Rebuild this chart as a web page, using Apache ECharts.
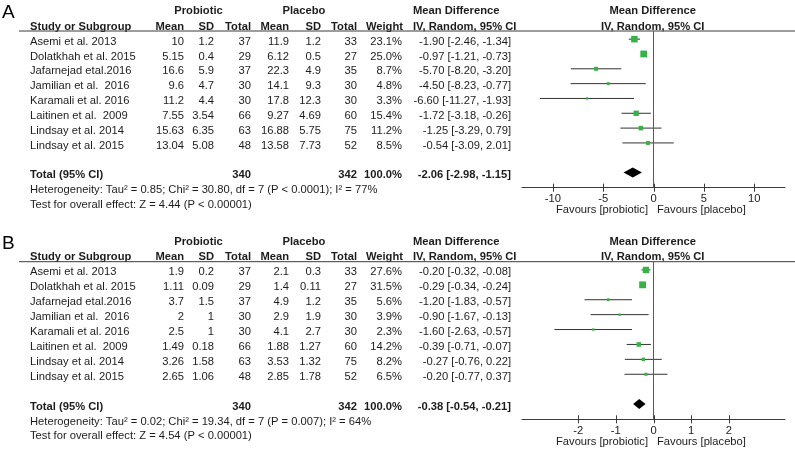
<!DOCTYPE html>
<html><head><meta charset="utf-8">
<script src="https://cdn.jsdelivr.net/npm/echarts@6/dist/echarts.min.js"></script>
<style>html,body{margin:0;padding:0;background:#fff}#c{width:795px;height:451px}</style>
</head><body><div id="c"></div>
<script>
// ---------- data ----------
const studies = ['Asemi et al. 2013', 'Dolatkhah et al. 2015', 'Jafarnejad etal.2016', 'Jamilian et al.  2016',
  'Karamali et al. 2016', 'Laitinen et al.  2009', 'Lindsay et al. 2014', 'Lindsay et al. 2015'];
const probN = [37, 29, 37, 30, 30, 66, 63, 48];
const placN = [33, 27, 35, 30, 30, 60, 75, 52];

// Panel A
const aProbMean = ['10', '5.15', '16.6', '9.6', '11.2', '7.55', '15.63', '13.04'];
const aProbSD = ['1.2', '0.4', '5.9', '4.7', '4.4', '3.54', '6.35', '5.08'];
const aPlacMean = ['11.9', '6.12', '22.3', '14.1', '17.8', '9.27', '16.88', '13.58'];
const aPlacSD = ['1.2', '0.5', '4.9', '9.3', '12.3', '4.69', '5.75', '7.73'];
const aWeight = [23.1, 25.0, 8.7, 4.8, 3.3, 15.4, 11.2, 8.5];
const aMD = [-1.90, -0.97, -5.70, -4.50, -6.60, -1.72, -1.25, -0.54];
const aLo = [-2.46, -1.21, -8.20, -8.23, -11.27, -3.18, -3.29, -3.09];
const aHi = [-1.34, -0.73, -3.20, -0.77, -1.93, -0.26, 0.79, 2.01];
const aTotal = [-2.06, -2.98, -1.15];
const aHet = 'Heterogeneity: Tau\u00b2 = 0.85; Chi\u00b2 = 30.80, df = 7 (P < 0.0001); I\u00b2 = 77%';
const aTest = 'Test for overall effect: Z = 4.44 (P < 0.00001)';
const aTicks = [-10, -5, 0, 5, 10];

// Panel B
const bProbMean = ['1.9', '1.11', '3.7', '2', '2.5', '1.49', '3.26', '2.65'];
const bProbSD = ['0.2', '0.09', '1.5', '1', '1', '0.18', '1.58', '1.06'];
const bPlacMean = ['2.1', '1.4', '4.9', '2.9', '4.1', '1.88', '3.53', '2.85'];
const bPlacSD = ['0.3', '0.11', '1.2', '1.9', '2.7', '1.27', '1.32', '1.78'];
const bWeight = [27.6, 31.5, 5.6, 3.9, 2.3, 14.2, 8.2, 6.5];
const bMD = [-0.20, -0.29, -1.20, -0.90, -1.60, -0.39, -0.27, -0.20];
const bLo = [-0.32, -0.34, -1.83, -1.67, -2.63, -0.71, -0.76, -0.77];
const bHi = [-0.08, -0.24, -0.57, -0.13, -0.57, -0.07, 0.22, 0.37];
const bTotal = [-0.38, -0.54, -0.21];
const bHet = 'Heterogeneity: Tau\u00b2 = 0.02; Chi\u00b2 = 19.34, df = 7 (P = 0.007); I\u00b2 = 64%';
const bTest = 'Test for overall effect: Z = 4.54 (P < 0.00001)';
const bTicks = [-2, -1, 0, 1, 2];

const totalProb = 340, totalPlac = 342;

// ---------- style / layout ----------
const FONT = '"Liberation Sans", Arial, sans-serif';
const FS = 11.2;
const TXT = '#1c1c1c';
const GREEN = '#34b444';
const AXC = '#3a3a3a';
const COL = { study: 30, pMean: 184, pSD: 214, pN: 251, cMean: 289, cSD: 321, cN: 357, w: 402, ci: 511 };
const TEXT_DY = 2.5;
const YMIN = -0.55, YMAX = 10.02;

function fmt2(v) { return v.toFixed(2); }
function ciText(m, l, h) { return fmt2(m) + ' [' + fmt2(l) + ', ' + fmt2(h) + ']'; }

const panels = [
  { label: 'A', top: 31, height: 156.7, xr: 13.06, ticks: aTicks,
    pm: aProbMean, ps: aProbSD, cm: aPlacMean, cs: aPlacSD, w: aWeight, md: aMD, lo: aLo, hi: aHi,
    tot: aTotal, het: aHet, test: aTest },
  { label: 'B', top: 261.7, height: 157.6, xr: 3.49, ticks: bTicks,
    pm: bProbMean, ps: bProbSD, cm: bPlacMean, cs: bPlacSD, w: bWeight, md: bMD, lo: bLo, hi: bHi,
    tot: bTotal, het: bHet, test: bTest }
];

function t(x, y, text, align, bold, size) {
  return { type: 'text', style: { x: x, y: y, text: text, fill: TXT, align: align || 'left', verticalAlign: 'middle',
    font: (bold ? 'bold ' : '') + (size || FS) + 'px ' + FONT } };
}

const grids = [], xAxes = [], yAxes = [], series = [], graphics = [];

panels.forEach(function (P, k) {
  grids.push({ left: 522, right: 10, top: P.top, height: P.height });
  xAxes.push({ type: 'value', gridIndex: k, min: -P.xr, max: P.xr, position: 'bottom',
    splitLine: { show: false },
    axisLine: { show: true, onZero: false, lineStyle: { color: AXC, width: 1 } },
    axisTick: { show: false },
    axisLabel: { show: true, customValues: P.ticks, margin: 6, color: TXT, fontSize: FS, fontFamily: FONT }
  });
  yAxes.push({ type: 'value', gridIndex: k, inverse: true, min: YMIN, max: YMAX, show: false });

  const maxW = Math.max.apply(null, P.w);

  // study rows
  const rows = studies.map(function (s, i) { return [P.lo[i], P.hi[i], P.md[i], i, P.w[i]]; });
  series.push({
    type: 'custom', xAxisIndex: k, yAxisIndex: k, clip: false, silent: true,
    encode: { x: [0, 1, 2], y: 3 },
    data: rows,
    renderItem: function (params, api) {
      const i = params.dataIndex;
      const pl = api.coord([api.value(0), api.value(3)]);
      const ph = api.coord([api.value(1), api.value(3)]);
      const pm = api.coord([api.value(2), api.value(3)]);
      const ty = pl[1] + TEXT_DY;
      const side = Math.max(2.4, 6.8 * Math.sqrt(api.value(4) / maxW));
      return { type: 'group', children: [
        t(COL.study, ty, studies[i]),
        t(COL.pMean, ty, P.pm[i], 'right'),
        t(COL.pSD, ty, P.ps[i], 'right'),
        t(COL.pN, ty, String(probN[i]), 'right'),
        t(COL.cMean, ty, P.cm[i], 'right'),
        t(COL.cSD, ty, P.cs[i], 'right'),
        t(COL.cN, ty, String(placN[i]), 'right'),
        t(COL.w, ty, P.w[i].toFixed(1) + '%', 'right'),
        t(COL.ci, ty, ciText(P.md[i], P.lo[i], P.hi[i]), 'right'),
        { type: 'line', shape: { x1: pl[0], y1: pl[1], x2: ph[0], y2: ph[1] },
          style: { stroke: '#333', lineWidth: 1 } },
        { type: 'rect', shape: { x: pm[0] - side / 2, y: pm[1] - side / 2, width: side, height: side },
          style: { fill: GREEN } }
      ] };
    },
    markLine: { silent: true, symbol: 'none', animation: false, label: { show: false },
      lineStyle: { color: '#5a5a5a', width: 1, type: 'solid' }, data: [{ xAxis: 0 }] }
  });

  // crossing tick marks on the axis
  series.push({
    type: 'custom', xAxisIndex: k, yAxisIndex: k, clip: false, silent: true,
    encode: { x: 0, y: 1 },
    data: P.ticks.map(function (v) { return [v, YMAX]; }),
    renderItem: function (params, api) {
      const p = api.coord([api.value(0), api.value(1)]);
      const x = Math.round(p[0]) + 0.5;
      return { type: 'line', shape: { x1: x, y1: p[1] - 4, x2: x, y2: p[1] + 4 },
        style: { stroke: AXC, lineWidth: 1 } };
    }
  });

  // total row + footer
  series.push({
    type: 'custom', xAxisIndex: k, yAxisIndex: k, clip: false, silent: true,
    encode: { x: [0, 1, 2], y: 3 },
    data: [[P.tot[1], P.tot[2], P.tot[0], 9]],
    renderItem: function (params, api) {
      const row = api.value(3);
      const pl = api.coord([api.value(0), row]);
      const ph = api.coord([api.value(1), row]);
      const pm = api.coord([api.value(2), row]);
      const ty = pl[1] + TEXT_DY;
      const y10 = api.coord([0, row + 1])[1] + TEXT_DY;
      const y11 = api.coord([0, row + 2])[1] + TEXT_DY;
      return { type: 'group', children: [
        t(COL.study, ty, 'Total (95% CI)', 'left', true),
        t(COL.pN, ty, String(totalProb), 'right', true),
        t(COL.cN, ty, String(totalPlac), 'right', true),
        t(COL.w, ty, '100.0%', 'right', true),
        t(COL.ci, ty, ciText(P.tot[0], P.tot[1], P.tot[2]), 'right', true),
        t(COL.study, y10, P.het),
        t(COL.study, y11, P.test),
        { type: 'polygon', shape: { points: [[pl[0], pl[1]], [pm[0], pm[1] - 5], [ph[0], ph[1]], [pm[0], pm[1] + 5]] },
          style: { fill: '#000' } }
      ] };
    }
  });

  // headers
  const h2 = P.top - 4.5, h1 = h2 - 15.5;
  graphics.push(
    { type: 'text', x: 2, y: h1 + 2, style: { text: P.label, fill: '#000', font: '19px ' + FONT, align: 'left', verticalAlign: 'middle' } },
    t(198.5, h1, 'Probiotic', 'center', true),
    t(304, h1, 'Placebo', 'center', true),
    t(413, h1, 'Mean Difference', 'left', true),
    t(652.7, h1, 'Mean Difference', 'center', true),
    t(COL.study, h2, 'Study or Subgroup', 'left', true),
    t(COL.pMean, h2, 'Mean', 'right', true),
    t(COL.pSD, h2, 'SD', 'right', true),
    t(COL.pN, h2, 'Total', 'right', true),
    t(COL.cMean, h2, 'Mean', 'right', true),
    t(COL.cSD, h2, 'SD', 'right', true),
    t(COL.cN, h2, 'Total', 'right', true),
    t(COL.w + 1, h2, 'Weight', 'right', true),
    t(413, h2, 'IV, Random, 95% CI', 'left', true),
    t(652.7, h2, 'IV, Random, 95% CI', 'center', true),
    { type: 'line', shape: { x1: 19, y1: P.top, x2: 795, y2: P.top }, style: { stroke: AXC, lineWidth: 1 } },
    t(648, P.top + P.height + 22.5, 'Favours [probiotic]', 'right'),
    t(657, P.top + P.height + 22.5, 'Favours [placebo]', 'left')
  );
});

const chart = echarts.init(document.getElementById('c'), null, { renderer: 'canvas' });
chart.setOption({
  animation: false,
  backgroundColor: '#fff',
  grid: grids, xAxis: xAxes, yAxis: yAxes, series: series,
  graphic: { elements: graphics }
});
</script></body></html>
